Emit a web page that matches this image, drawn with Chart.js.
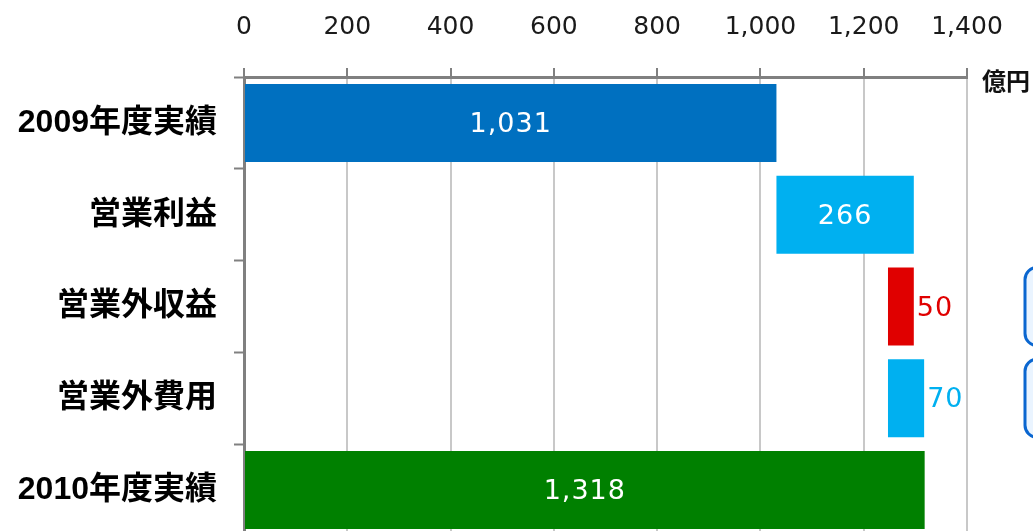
<!DOCTYPE html>
<html>
<head>
<meta charset="utf-8">
<script src="https://cdn.jsdelivr.net/npm/chart.js@4/dist/chart.umd.min.js"></script>
<style>
  html, body { margin: 0; padding: 0; background: #fff; overflow: hidden; }
  #wrap { width: 1033px; height: 531px; overflow: hidden; }
  canvas { display: block; }
</style>
</head>
<body>
<div id="wrap"><canvas id="c" width="1033" height="536" style="width:1033px;height:536px"></canvas></div>
<script>
// ---- data ----
const categories = ['2009年度実績', '営業利益', '営業外収益', '営業外費用', '2010年度実績'];
const stepValues = [1031, 266, -50, 70];      // waterfall steps (start, +, -, +)
const totalValue = 1318;                      // final total
const labelValues = [1031, 266, 50, 70, 1318];
const barColors = ['#0070C0', '#00B0F0', '#E00000', '#00B0F0', '#008000'];
const xTicks = [0, 200, 400, 600, 800, 1000, 1200, 1400];
const unitLabel = '億円';
const calloutRows = [2, 3];

// build floating ranges from cumulative steps
const ranges = [];
let run = 0;
stepValues.forEach((v, i) => {
  const start = i === 0 ? 0 : run;
  run += v;
  ranges.push([start, run]);
});
ranges.push([0, totalValue]);

const labelPlugin = {
  id: 'labels',
  afterDatasetsDraw(chart) {
    const ctx = chart.ctx;
    const meta = chart.getDatasetMeta(0);
    ctx.save();
    ctx.font = '400 27px "DejaVu Sans", sans-serif';
    ctx.letterSpacing = '1px';
    ctx.textBaseline = 'middle';
    meta.data.forEach((el, i) => {
      const left = Math.min(el.x, el.base);
      const right = Math.max(el.x, el.base);
      const txt = labelValues[i].toLocaleString('en-US');
      if (right - left > 80) {
        ctx.fillStyle = '#ffffff';
        ctx.textAlign = 'center';
        ctx.fillText(txt, (left + right) / 2, el.y + 2);
      } else {
        ctx.fillStyle = barColors[i];
        ctx.textAlign = 'left';
        ctx.fillText(txt, right + 3, el.y + 2);
      }
    });
    ctx.letterSpacing = '0px';
    // callout boxes at right (partially visible)
    calloutRows.forEach(i => {
      const el = meta.data[i];
      const h = el.height;
      const top = el.y - h / 2;
      const x = 1025, w = 120, r = 12;
      ctx.beginPath();
      ctx.roundRect(x, top, w, h, r);
      ctx.fillStyle = '#eaf4ff';
      ctx.fill();
      ctx.lineWidth = 3;
      ctx.strokeStyle = '#0a66d0';
      ctx.stroke();
    });
    // unit label
    const ca = chart.chartArea;
    ctx.font = 'bold 24px "Liberation Sans", "Noto Sans CJK JP", sans-serif';
    ctx.fillStyle = '#111';
    ctx.textAlign = 'left';
    ctx.textBaseline = 'middle';
    ctx.fillText(unitLabel, ca.right + 15, ca.top + 6);
    ctx.restore();
  }
};

new Chart(document.getElementById('c'), {
  type: 'bar',
  data: {
    labels: categories,
    datasets: [{
      data: ranges,
      backgroundColor: barColors,
      borderWidth: 0,
      categoryPercentage: 1.0,
      barPercentage: 0.85
    }]
  },
  options: {
    indexAxis: 'y',
    responsive: false,
    maintainAspectRatio: false,
    animation: false,
    devicePixelRatio: 1,
    layout: { padding: { left: 0, right: 66, top: 0, bottom: 0 } },
    plugins: { legend: { display: false }, tooltip: { enabled: false } },
    scales: {
      x: {
        position: 'top',
        min: 0, max: 1400,
        afterBuildTicks(scale) { scale.ticks = xTicks.map(v => ({ value: v })); },
        afterFit(scale) { scale.height = 77; },
        ticks: {
          padding: 26,
          color: '#1a1a1a',
          font: { family: '"DejaVu Sans", sans-serif', size: 25, weight: '400' },
          callback: v => Number(v).toLocaleString('en-US')
        },
        grid: {
          color: '#c8c8c8',
          lineWidth: 2,
          tickLength: 9,
          tickColor: '#808080',
          tickWidth: 2
        },
        border: { color: '#808080', width: 3 }
      },
      y: {
        afterFit(scale) { scale.width = 244; scale.paddingTop = 0; scale.paddingBottom = 0; },
        ticks: {
          padding: 17,
          color: '#000',
          font: { family: '"Liberation Sans", "Noto Sans CJK JP", sans-serif', size: 32, weight: 'bold' }
        },
        grid: {
          offset: true,
          drawOnChartArea: false,
          tickLength: 10,
          tickColor: '#808080',
          tickWidth: 2
        },
        border: { color: '#808080', width: 3 }
      }
    }
  },
  plugins: [labelPlugin]
});
</script>
</body>
</html>
